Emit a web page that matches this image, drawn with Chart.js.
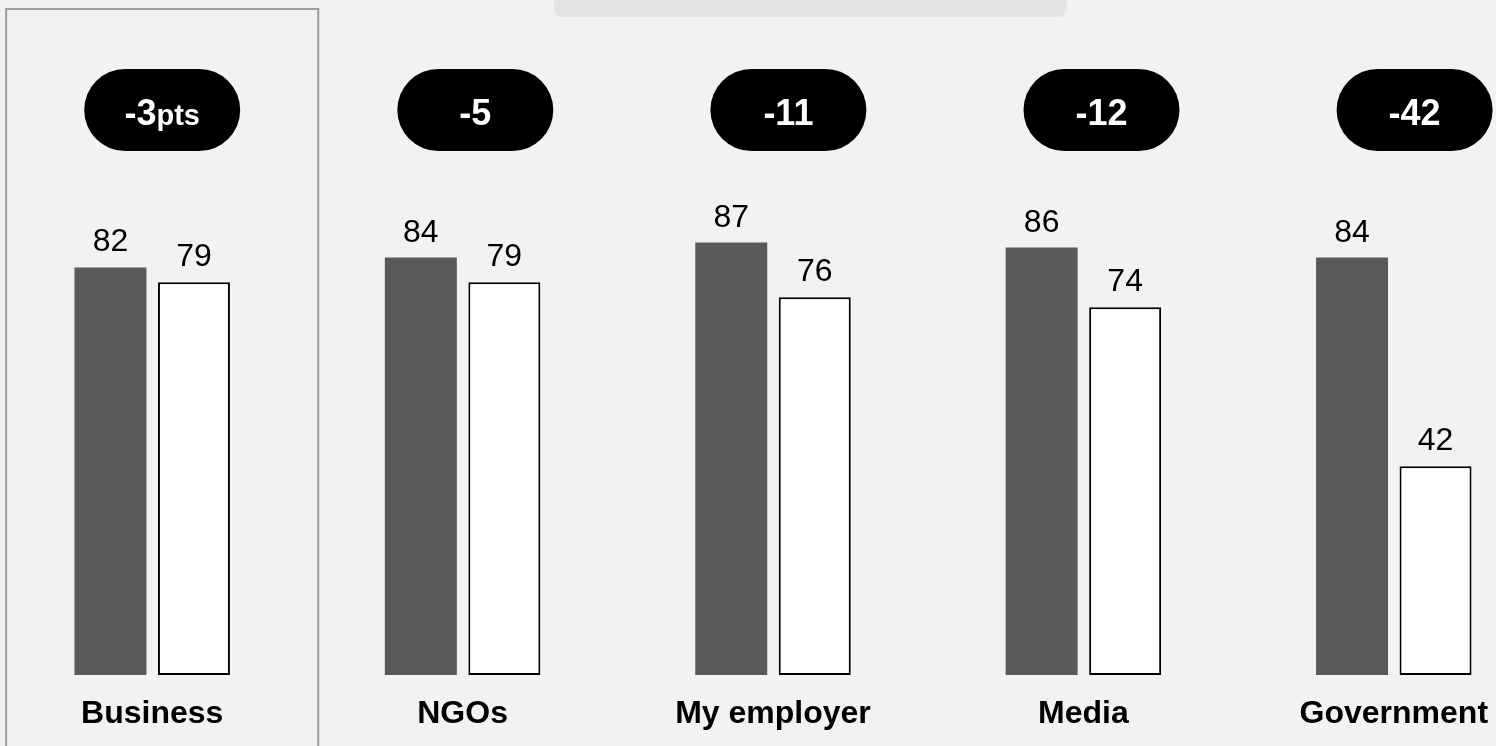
<!DOCTYPE html>
<html lang="en">

<head>
    <meta charset="UTF-8">
    <title>Trust by institution</title>
    <script src="https://cdn.jsdelivr.net/npm/chart.js"></script>
</head>

<style>
    body {
        margin: 0;
        padding: 0;
        background-color: #F2F2F2;
        overflow: hidden;
        width: 1496px;
        height: 746px;
        position: relative;
    }

    .faixa_topo {
        position: absolute;
        left: 554px;
        top: 0;
        width: 513px;
        height: 17px;
        background-color: #E4E4E4;
        border-radius: 0 0 8px 8px;
    }

    .caixa_grafico {
        position: absolute;
        left: -3px;
        top: 0;
        width: 1552px;
        height: 767px;
    }
</style>

<body>
    <div class="faixa_topo"></div>
    <div class="caixa_grafico">
        <canvas id="graficoConfianca"></canvas>
    </div>
</body>

</html>

<script>
    // categorias e valores
    const categorias = ['Business', 'NGOs', 'My employer', 'Media', 'Government'];
    const antes = [82, 84, 87, 86, 84];
    const depois = [79, 79, 76, 74, 42];

    const FONTE = '"Liberation Sans", Arial, sans-serif';

    // valores em cima das barras
    const rotulosValores = {
        id: 'rotulosValores',
        afterDatasetsDraw(chart) {
            const ctx = chart.ctx;
            ctx.save();
            ctx.fillStyle = '#000';
            ctx.font = '32px ' + FONTE;
            ctx.textAlign = 'center';
            ctx.textBaseline = 'alphabetic';
            chart.data.datasets.forEach((ds, d) => {
                chart.getDatasetMeta(d).data.forEach((barra, i) => {
                    ctx.fillText(String(ds.data[i]), barra.x, barra.y - 16);
                });
            });
            ctx.restore();
        }
    };

    // pílulas com a variação e a caixa do primeiro grupo
    const pilulas = {
        id: 'pilulas',
        beforeDatasetsDraw(chart) {
            const ctx = chart.ctx;
            const x = chart.scales.x;
            const passo = (x.getPixelForValue(4) - x.getPixelForValue(0)) / 4 + 2.7;
            const inicio = x.getPixelForValue(0) + 10;
            const w = 156, h = 82, cy = 110;

            ctx.save();
            // caixa em volta de Business
            ctx.strokeStyle = '#9E9E9E';
            ctx.lineWidth = 2;
            ctx.strokeRect(inicio - passo / 2 + 0.5, 9, passo - 1, 800);

            categorias.forEach((c, i) => {
                const cx = inicio + i * passo;
                ctx.fillStyle = '#000';
                ctx.beginPath();
                ctx.roundRect(cx - w / 2, cy - h / 2, w, h, h / 2);
                ctx.fill();

                const variacao = String(depois[i] - antes[i]);
                const sufixo = i === 0 ? 'pts' : '';
                ctx.fillStyle = '#FFF';
                ctx.textBaseline = 'alphabetic';
                ctx.textAlign = 'left';
                ctx.font = 'bold 36px ' + FONTE;
                const w1 = ctx.measureText(variacao).width;
                ctx.font = 'bold 29px ' + FONTE;
                const w2 = sufixo ? ctx.measureText(sufixo).width : 0;
                let tx = cx - (w1 + w2) / 2;
                ctx.font = 'bold 36px ' + FONTE;
                ctx.fillText(variacao, tx, cy + 15);
                if (sufixo) {
                    ctx.font = 'bold 29px ' + FONTE;
                    ctx.fillText(sufixo, tx + w1, cy + 15);
                }
            });
            ctx.restore();
        }
    };

    let chartData = {
        labels: categorias,
        datasets: [{
            label: 'Antes',
            data: antes,
            backgroundColor: '#595959',
            borderWidth: 0
        },
        {
            label: 'Depois',
            data: depois,
            backgroundColor: '#FFFFFF',
            borderColor: '#000000',
            borderWidth: 2,
            borderSkipped: false
        }]
    };

    const config = {
        type: 'bar',
        data: chartData,
        options: {
            responsive: true,
            maintainAspectRatio: false,
            animation: false,
            categoryPercentage: 0.538,
            barPercentage: 0.862,
            layout: {
                padding: { top: 178, bottom: 13.6, left: 0, right: 0 }
            },
            scales: {
                y: {
                    display: false,
                    min: 0,
                    max: 100
                },
                x: {
                    grid: { display: false, drawTicks: false },
                    border: { display: false },
                    ticks: {
                        color: '#000',
                        padding: 20,
                        font: { family: FONTE, size: 32, weight: 'bold' }
                    }
                }
            },
            plugins: {
                legend: { display: false },
                tooltip: { enabled: false }
            }
        },
        plugins: [pilulas, rotulosValores]
    };

    let myChart = new Chart(
        document.getElementById('graficoConfianca'),
        config
    );
</script>
